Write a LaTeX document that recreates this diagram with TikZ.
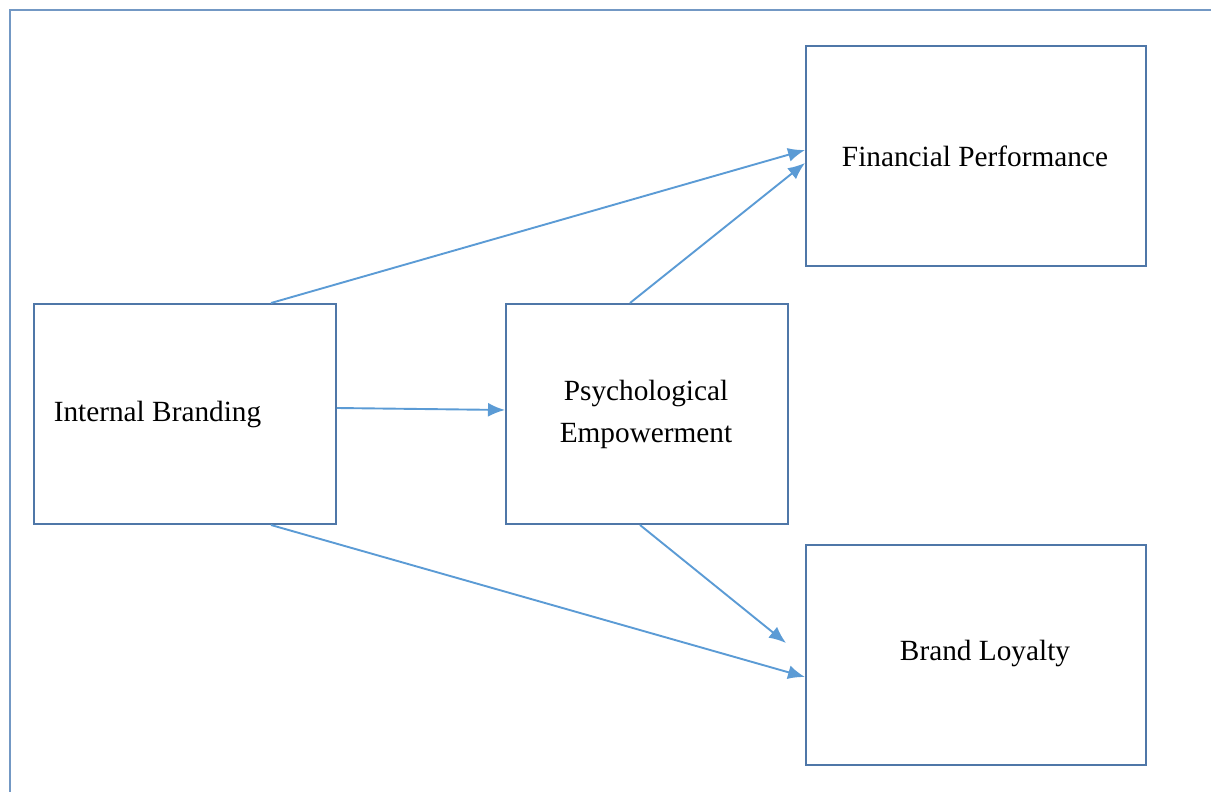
\documentclass[tikz,border=0pt]{standalone}
\usepackage{fontspec}
\setmainfont{Liberation Serif}
\usetikzlibrary{arrows.meta,calc}
\definecolor{boxblue}{HTML}{4F77A8}
\definecolor{arrowblue}{HTML}{5B9BD5}
\definecolor{frameblue}{HTML}{7398C4}
\tikzset{
  box/.style={draw=boxblue, line width=2pt, rectangle, minimum height=220pt, inner sep=0pt},
  lbl/.style={font=\fontsize{29.3}{42}\selectfont, text=black, inner sep=0pt, align=center},
  conn/.style={draw=arrowblue, line width=1.9pt, -{Latex[length=17pt,width=14pt]}}
}
\begin{document}
\begin{tikzpicture}[x=1pt,y=-1pt]
\useasboundingbox (0,0) rectangle (1211,792);
\draw[frameblue, line width=2.5pt] (10,792) -- (10,10) -- (1211,10);
\node[box, minimum width=302pt] (ib) at (185,414) {};
\node[box, minimum width=282pt] (pe) at (647,414) {};
\node[box, minimum width=340pt] (fp) at (976,156) {};
\node[box, minimum width=340pt] (bl) at (976,655) {};
\node[lbl] (ibt) at (157.5,414) {Internal Branding};
\node[lbl] (pet) at (646,414) {Psychological\\Empowerment};
\node[lbl] (fpt) at (975,156) {Financial Performance};
\node[lbl] (blt) at (985,653) {Brand Loyalty};
\coordinate (blin) at (786,643);
\draw[conn] ([xshift=-66pt]ib.north east) -- ([yshift=6pt]fp.west);
\draw[conn] ([yshift=6pt]ib.east) -- ([yshift=4pt]pe.west);
\draw[conn] ([xshift=-66pt]ib.south east) -- ([yshift=-22pt]bl.west);
\draw[conn] ([xshift=-17pt]pe.north) -- ([yshift=-7pt]fp.west);
\draw[conn] ([xshift=-7pt]pe.south) -- (blin);
\end{tikzpicture}
\end{document}
